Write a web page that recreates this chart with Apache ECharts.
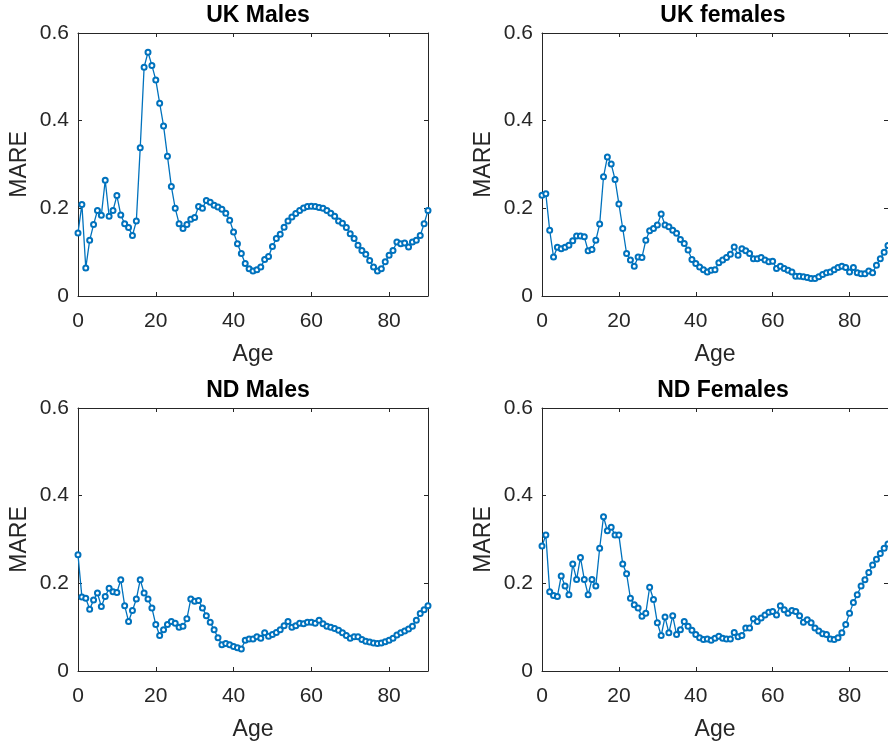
<!DOCTYPE html>
<html>
<head>
<meta charset="utf-8">
<script src="https://cdn.jsdelivr.net/npm/echarts@6/dist/echarts.min.js"></script>
<style>
  html, body { margin: 0; padding: 0; background: #fff; }
  #chart { width: 888px; height: 743px; }
</style>
</head>
<body>
<div id="chart"></div>
<script>
// ages on the x axis
var ages = [0,1,2,3,4,5,6,7,8,9,10,11,12,13,14,15,16,17,18,19,20,21,22,23,24,25,26,27,28,29,
  30,31,32,33,34,35,36,37,38,39,40,41,42,43,44,45,46,47,48,49,50,51,52,53,54,55,56,57,58,59,
  60,61,62,63,64,65,66,67,68,69,70,71,72,73,74,75,76,77,78,79,80,81,82,83,84,85,86,87,88,89,90];

var ukMales = [0.144,0.209,0.064,0.127,0.163,0.195,0.184,0.264,0.182,0.195,
  0.229,0.185,0.165,0.156,0.138,0.171,0.338,0.522,0.556,0.526,
  0.493,0.44,0.388,0.319,0.25,0.2,0.165,0.154,0.163,0.175,
  0.179,0.204,0.2,0.218,0.214,0.207,0.203,0.198,0.189,0.173,
  0.146,0.119,0.097,0.074,0.062,0.057,0.06,0.066,0.083,0.09,
  0.113,0.131,0.141,0.157,0.171,0.18,0.188,0.195,0.201,0.204,
  0.205,0.204,0.202,0.2,0.195,0.189,0.182,0.171,0.166,0.156,
  0.142,0.131,0.116,0.104,0.095,0.081,0.066,0.057,0.062,0.078,
  0.093,0.104,0.123,0.119,0.121,0.112,0.123,0.127,0.138,0.165,
  0.195];

var ukFemales = [0.23,0.233,0.15,0.089,0.111,0.108,0.111,0.116,0.126,0.137,
  0.137,0.135,0.103,0.106,0.127,0.164,0.272,0.317,0.301,0.266,
  0.21,0.154,0.097,0.082,0.068,0.089,0.088,0.127,0.149,0.154,
  0.162,0.187,0.162,0.158,0.15,0.143,0.129,0.12,0.105,0.083,
  0.074,0.066,0.06,0.055,0.059,0.06,0.076,0.082,0.088,0.095,
  0.112,0.093,0.108,0.103,0.097,0.085,0.085,0.088,0.082,0.078,
  0.079,0.063,0.068,0.063,0.059,0.055,0.045,0.045,0.044,0.042,
  0.04,0.04,0.044,0.049,0.053,0.055,0.06,0.065,0.068,0.065,
  0.055,0.065,0.053,0.051,0.051,0.057,0.053,0.07,0.085,0.1,
  0.115];

var ndMales = [0.265,0.169,0.166,0.141,0.162,0.178,0.147,0.17,0.189,0.181,
  0.179,0.208,0.149,0.113,0.138,0.164,0.208,0.178,0.164,0.144,
  0.106,0.081,0.094,0.106,0.113,0.109,0.1,0.102,0.119,0.164,
  0.159,0.161,0.144,0.126,0.111,0.094,0.076,0.06,0.063,0.06,
  0.056,0.053,0.05,0.07,0.073,0.073,0.078,0.075,0.087,0.079,
  0.083,0.088,0.094,0.103,0.113,0.1,0.103,0.109,0.108,0.111,
  0.111,0.109,0.116,0.108,0.102,0.1,0.097,0.093,0.087,0.081,
  0.075,0.078,0.078,0.072,0.068,0.066,0.064,0.063,0.064,0.067,
  0.07,0.075,0.082,0.087,0.091,0.096,0.102,0.116,0.131,0.14,
  0.149];

var ndFemales = [0.285,0.31,0.181,0.172,0.17,0.217,0.194,0.174,0.244,0.209,
  0.259,0.209,0.174,0.209,0.194,0.28,0.352,0.32,0.328,0.31,
  0.31,0.244,0.222,0.166,0.151,0.144,0.125,0.132,0.191,0.163,
  0.11,0.081,0.123,0.087,0.126,0.083,0.094,0.113,0.102,0.093,
  0.083,0.076,0.072,0.073,0.07,0.075,0.079,0.075,0.073,0.073,
  0.088,0.078,0.081,0.098,0.098,0.119,0.113,0.121,0.128,0.134,
  0.136,0.128,0.149,0.14,0.132,0.138,0.136,0.126,0.111,0.117,
  0.11,0.098,0.091,0.085,0.083,0.073,0.072,0.076,0.087,0.106,
  0.132,0.156,0.174,0.194,0.208,0.225,0.242,0.255,0.268,0.28,
  0.29];

var titles = ['UK Males', 'UK females', 'ND Males', 'ND Females'];
var panels = [ukMales, ukFemales, ndMales, ndFemales];

// subplot boxes (px)
var boxes = [
  { left: 78, top: 33, width: 350, height: 263 },
  { left: 542, top: 33, width: 352, height: 263 },
  { left: 78, top: 408, width: 350, height: 263 },
  { left: 542, top: 408, width: 352, height: 263 }
];

var axisColor = '#262626';
var lineColor = '#0072BD';
var font = 'Liberation Sans, Arial, Helvetica, sans-serif';

var grid = [], xAxis = [], yAxis = [], series = [], title = [];

boxes.forEach(function (b, k) {
  grid.push({ left: b.left, top: b.top, width: b.width, height: b.height, containLabel: false });

  title.push({
    text: titles[k],
    left: b.left + b.width / 2,
    top: b.top - 34,
    textAlign: 'center',
    textStyle: { fontFamily: font, fontSize: 23, fontWeight: 'bold', color: '#000' }
  });

  var tick = { show: true, inside: true, length: 4, lineStyle: { color: axisColor, width: 1 } };
  var line = { show: true, onZero: false, lineStyle: { color: axisColor, width: 1 } };

  // bottom x axis with labels
  xAxis.push({
    type: 'value', gridIndex: k, position: 'bottom', min: 0, max: 90, interval: 20,
    name: 'Age', nameLocation: 'middle', nameGap: 47,
    nameTextStyle: { fontFamily: font, fontSize: 23, color: axisColor },
    axisLine: line, axisTick: tick, splitLine: { show: false },
    axisLabel: { showMaxLabel: false, margin: 15, fontFamily: font, fontSize: 21, color: axisColor }
  });
  // top mirror
  xAxis.push({
    type: 'value', gridIndex: k, position: 'top', min: 0, max: 90, interval: 20,
    axisLine: line, axisTick: tick, splitLine: { show: false }, axisLabel: { show: false }
  });
  // left y axis with labels
  yAxis.push({
    type: 'value', gridIndex: k, position: 'left', min: 0, max: 0.6, interval: 0.2,
    name: 'MARE', nameLocation: 'middle', nameGap: 47,
    nameTextStyle: { fontFamily: font, fontSize: 23, color: axisColor },
    axisLine: line, axisTick: tick, splitLine: { show: false },
    axisLabel: { margin: 9, fontFamily: font, fontSize: 21, color: axisColor,
      formatter: function (v) { return v === 0 ? '0' : v.toFixed(1); } }
  });
  // right mirror
  yAxis.push({
    type: 'value', gridIndex: k, position: 'right', min: 0, max: 0.6, interval: 0.2,
    axisLine: line, axisTick: tick, splitLine: { show: false }, axisLabel: { show: false }
  });

  series.push({
    type: 'line',
    name: titles[k],
    xAxisIndex: 2 * k,
    yAxisIndex: 2 * k,
    data: ages.map(function (a, i) { return [a, panels[k][i]]; }),
    symbol: 'emptyCircle',
    symbolSize: 5,
    lineStyle: { color: lineColor, width: 1.3 },
    itemStyle: { color: lineColor, borderWidth: 1 }
  });
});

var chart = echarts.init(document.getElementById('chart'));
chart.setOption({
  animation: false,
  backgroundColor: '#fff',
  title: title,
  grid: grid,
  xAxis: xAxis,
  yAxis: yAxis,
  series: series
});
</script>
</body>
</html>
